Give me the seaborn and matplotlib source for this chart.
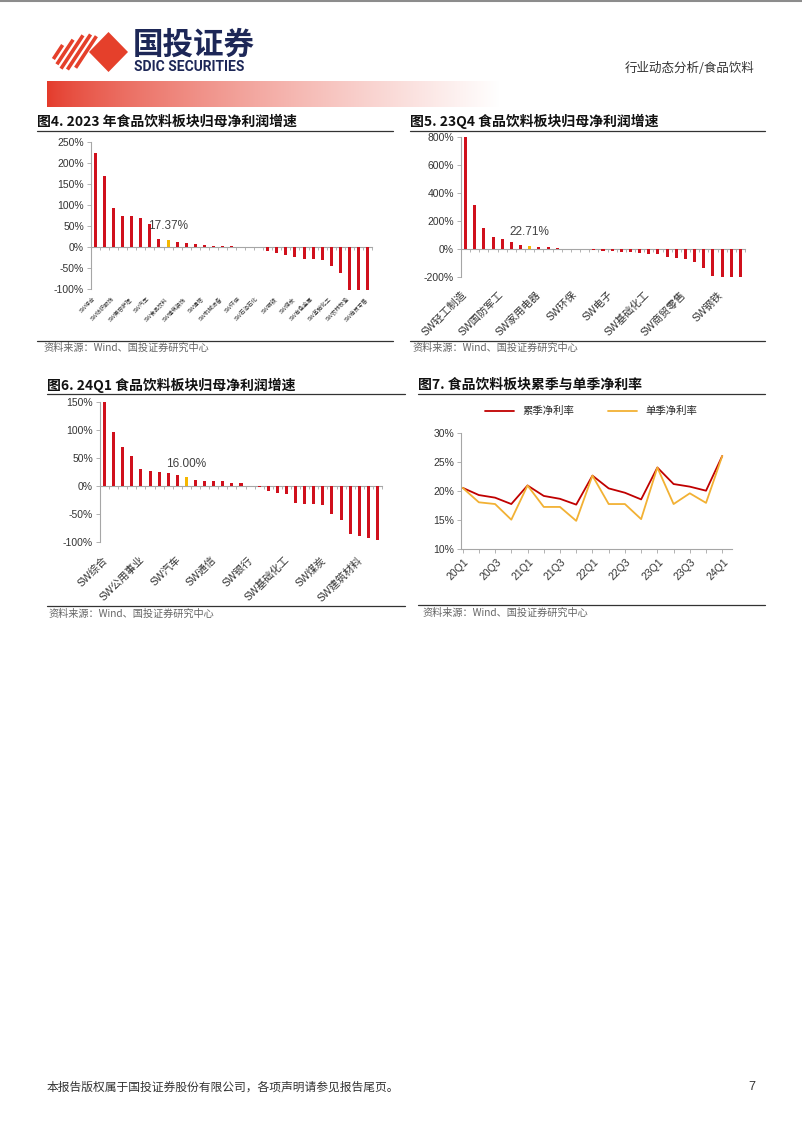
import numpy as np
import pandas as pd
import matplotlib
matplotlib.use('Agg')
import matplotlib.pyplot as plt
import seaborn as sns
from matplotlib.patches import Polygon
from matplotlib.lines import Line2D
from matplotlib.transforms import ScaledTranslation

# ---- data ----
# fig4: 2023 net profit growth by SW industry (%), labels on every 2nd bar
values4 = [224, 169, 92, 74, 73, 70, 54, 20, 17.37, 12, 9.5, 8, 5, 3.5, 2.5, 1.2,
           0.8, 0.4, -0.8, -9.5, -14, -18, -24.5, -28, -29, -31, -45, -61, -102, -102, -102]
labels4 = ['SW综合', 'SW纺织服饰', 'SW美容护理', 'SW汽车', 'SW食品饮料', 'SW建筑装饰',
           'SW通信', 'SW机械设备', 'SW环保', 'SW石油石化', 'SW钢铁', 'SW煤炭',
           'SW有色金属', 'SW基础化工', 'SW农林牧渔', 'SW商贸零售']
food_idx4 = 8

# fig5: 23Q4, labels on every 4th bar
values5 = [800, 312, 147, 87, 67, 46, 26, 22.71, 16, 10, 3, 1, -1, -2, -12, -14,
           -16, -24, -26, -30, -36, -40, -62, -65, -70, -98, -140, -195, -205, -205, -205]
labels5 = ['SW轻工制造', 'SW国防军工', 'SW家用电器', 'SW环保', 'SW电子', 'SW基础化工',
           'SW商贸零售', 'SW钢铁']
food_idx5 = 7

# fig6: 24Q1, labels on every 4th bar
values6 = [150, 97, 69, 53, 30, 27.5, 25, 22.5, 20, 16.00, 11, 9.5, 9, 8, 6, 5,
           0.3, -1.5, -9.5, -12.5, -14, -30, -31.5, -33, -35, -49.5, -61, -86, -90, -94, -97]
labels6 = ['SW综合', 'SW公用事业', 'SW汽车', 'SW通信', 'SW银行', 'SW基础化工',
           'SW煤炭', 'SW建筑材料']
food_idx6 = 9

# fig7: net margin (%)
quarters = ['20Q1', '20Q2', '20Q3', '20Q4', '21Q1', '21Q2', '21Q3', '21Q4', '22Q1',
            '22Q2', '22Q3', '22Q4', '23Q1', '23Q2', '23Q3', '23Q4', '24Q1']
margin_cum = [20.5, 19.25, 18.8, 17.7, 20.9, 19.1, 18.6, 17.6, 22.6, 20.4, 19.65,
              18.5, 24.0, 21.15, 20.7, 20.0, 26.0]
margin_single = [20.5, 18.0, 17.7, 15.0, 20.9, 17.2, 17.2, 14.8, 22.6, 17.7, 17.7,
                 15.1, 24.0, 17.7, 19.55, 17.9, 26.0]

RED = '#D0101C'
GOLD = '#F5B700'
AXC = '#A6A6A6'
TXT = '#333333'

sns.set_theme(style='white')
plt.rcParams['font.family'] = ['Liberation Sans', 'Noto Sans CJK SC']
plt.rcParams['axes.unicode_minus'] = False

W, H = 802, 1133
fig = plt.figure(figsize=(W / 100, H / 100), dpi=100)

# full-page axes in pixel coords for decorations
bg = fig.add_axes([0, 0, 1, 1], zorder=-5)
bg.set_xlim(0, W)
bg.set_ylim(H, 0)
bg.axis('off')


def add_ax(l, t, r, b):
    ax = fig.add_axes([l / W, 1 - b / H, (r - l) / W, (b - t) / H])
    ax.set_facecolor('none')
    return ax


def hline(x1, x2, y, color='#333333', lw=0.9):
    bg.add_line(Line2D([x1, x2], [y, y], color=color, lw=lw))


# ---- header ----
hline(0, W, 1, color='#8c8c8c', lw=1.5)
grad = np.linspace(0, 1, 400) ** 0.75
base = np.array([228, 58, 42]) / 255
rgb = base[None, :] * (1 - grad[:, None]) + grad[:, None]
bg.imshow(rgb[None, :, :], extent=(47, 500, 107, 81), aspect='auto', zorder=0)

logo_red = '#E5402B'
bg.add_patch(Polygon([(89, 52), (108.5, 32), (128, 52), (108.5, 72)], closed=True,
                     color=logo_red, lw=0))
for k, frac in enumerate([0.4, 0.7, 0.95, 1.0, 0.9]):
    cx, cy = 58 + 7 * k, 52
    L = 21 * frac
    d = np.array([0.55, -0.835])
    bg.add_line(Line2D([cx - d[0] * L, cx + d[0] * L], [cy - d[1] * L, cy + d[1] * L],
                       color=logo_red, lw=2.6, solid_capstyle='butt'))
bg.text(133, 45, '国投证券', fontsize=22, fontweight='bold', color='#1D2757',
        family='Noto Sans CJK SC', va='center', ha='left')
bg.text(134, 67, 'SDIC SECURITIES', fontsize=10, fontweight='bold', color='#1D2757',
        family='Roboto', va='center', ha='left')
bg.text(755, 68, '行业动态分析/食品饮料', fontsize=9, color=TXT,
        family='Noto Sans CJK SC', va='center', ha='right')

# ---- footer ----
bg.text(47, 1087, '本报告版权属于国投证券股份有限公司，各项声明请参见报告尾页。', fontsize=8.5,
        color=TXT, family='Noto Sans CJK SC', va='center', ha='left')
bg.text(755, 1087, '7', fontsize=9, color=TXT, va='center', ha='right')


def frame(title, x1, x2, ty, uy, sy, sx):
    bg.text(x1, ty, title, fontsize=10, fontweight='bold', color='#111111',
            family='Noto Sans CJK SC', va='center', ha='left')
    hline(x1, x2, uy)
    hline(x1, x2, sy - 7.5)
    bg.text(sx, sy, '资料来源：Wind、国投证券研究中心', fontsize=7.3, color='#666666',
            family='Noto Sans CJK SC', va='center', ha='left')


frame('图4. 2023 年食品饮料板块归母净利润增速', 37, 393, 121.5, 130.5, 348, 43)
frame('图5. 23Q4 食品饮料板块归母净利润增速', 410, 765, 121.5, 130.5, 348, 412)
frame('图6. 24Q1 食品饮料板块归母净利润增速', 47, 405, 385, 394, 613.5, 48)
frame('图7. 食品饮料板块累季与单季净利率', 418, 765, 385, 394, 612.5, 422)


def style_y(ax, ticks):
    ax.set_yticks(ticks)
    ax.set_yticklabels([f'{int(v)}%' for v in ticks])
    ax.tick_params(axis='y', length=3, width=0.6, color=AXC, labelsize=7.5,
                   labelcolor=TXT, pad=2, left=True)
    for s in ['top', 'right', 'bottom']:
        ax.spines[s].set_visible(False)
    ax.spines['left'].set_color(AXC)
    ax.spines['left'].set_linewidth(0.8)


def shift_labels(ax, dx_px):
    off = ScaledTranslation(dx_px / 100, 0, fig.dpi_scale_trans)
    for lab in ax.get_xticklabels():
        lab.set_transform(lab.get_transform() + off)


def bar_chart(ax, vals, food_idx, labels, step, ylo, yhi, ystep, ann_y,
              lab_fs, pad_px, dx_px):
    n = len(vals)
    pos = np.arange(n)
    df = pd.DataFrame({'pos': pos, 'val': vals, 'key': [str(i) for i in pos]})
    colors = [GOLD if i == food_idx else RED for i in pos]
    sns.barplot(data=df, x='pos', y='val', hue='key', palette=colors, legend=False,
                width=0.33, saturation=1, dodge=False, linewidth=0, ax=ax)
    for p in ax.patches:
        p.set_clip_on(False)
        p.set_edgecolor('none')
    ax.set_xlim(-0.5, n - 0.5)
    ax.set_ylim(ylo, yhi)
    ax.set_xlabel('')
    ax.set_ylabel('')
    style_y(ax, np.arange(ylo, yhi + 1, ystep))
    ax.set_xticks(pos[::step])
    ax.set_xticklabels(labels, rotation=45, ha='right', va='top', fontsize=lab_fs,
                       color=TXT)
    ax.tick_params(axis='x', length=0, pad=pad_px * 0.72)
    shift_labels(ax, dx_px)
    sec = ax.secondary_xaxis((0 - ylo) / (yhi - ylo))
    sec.set_xticks(np.arange(-0.5, n, 1))
    sec.set_xticklabels([])
    sec.tick_params(length=2.5, width=0.6, color=AXC, direction='out')
    for s in sec.spines.values():
        s.set_color(AXC)
        s.set_linewidth(0.8)
    ax.text(food_idx, ann_y, f'{vals[food_idx]:.2f}%', ha='center', va='center',
            fontsize=8.5, color='#404040')


ax4 = add_ax(91, 142, 372, 289)
bar_chart(ax4, values4, food_idx4, labels4, 2, -100, 250, 50, 50, 4, 7, 1)

ax5 = add_ax(461, 137.3, 745, 276.7)
bar_chart(ax5, values5, food_idx5, labels5, 4, -200, 800, 200, 118, 7.5, 13, 3)

ax6 = add_ax(100, 402.3, 382, 541.7)
bar_chart(ax6, values6, food_idx6, labels6, 4, -100, 150, 50, 40, 7.5, 13, 5)

# ---- fig7 lines ----
ax7 = add_ax(461, 432.7, 732, 548.7)
n7 = len(quarters)
df7 = pd.DataFrame({
    'q': list(range(n7)) * 2,
    'v': margin_cum + margin_single,
    's': ['累季净利率'] * n7 + ['单季净利率'] * n7,
})
sns.lineplot(data=df7, x='q', y='v', hue='s',
             palette={'累季净利率': '#C00000', '单季净利率': '#F2B134'},
             lw=1.3, ax=ax7)
ax7.set_xlim(-0.1, n7 - 0.4)
ax7.set_ylim(10, 30)
ax7.set_xlabel('')
ax7.set_ylabel('')
style_y(ax7, np.arange(10, 31, 5))
ax7.spines['bottom'].set_visible(True)
ax7.spines['bottom'].set_color(AXC)
ax7.spines['bottom'].set_linewidth(0.8)
ax7.set_xticks(range(n7))
ax7.set_xticklabels([q if i % 2 == 0 else '' for i, q in enumerate(quarters)],
                    rotation=45, ha='right', va='top', fontsize=7.5, color=TXT)
ax7.tick_params(axis='x', length=3, width=0.6, color=AXC, pad=3, bottom=True)
shift_labels(ax7, 8)
ax7.legend(loc='lower center', bbox_to_anchor=(0.48, 1.06), ncol=2, frameon=False,
           handlelength=2.8, columnspacing=3.2,
           prop={'family': 'Noto Sans CJK SC', 'size': 7.5})

fig.savefig('out.png', dpi=100)
